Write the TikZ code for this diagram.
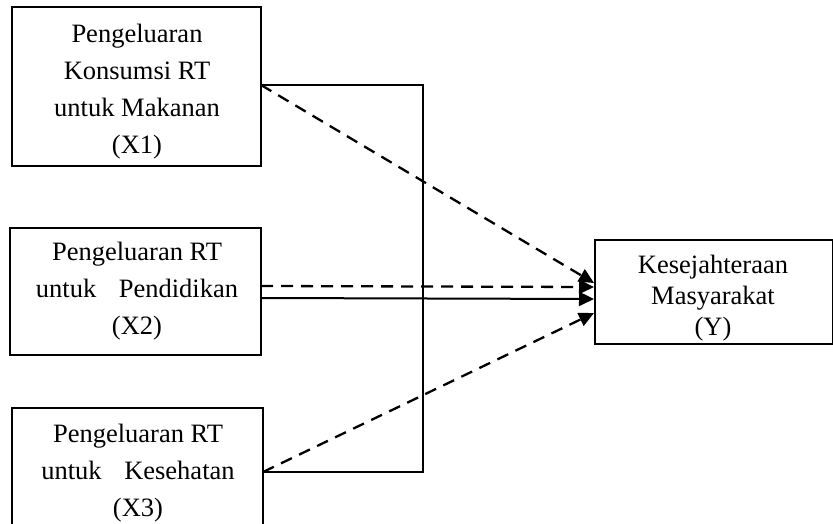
\documentclass[tikz,border=0pt]{standalone}
\usepackage{fontspec}
\setmainfont{Liberation Serif}
\usetikzlibrary{arrows.meta}
\begin{document}
\begin{tikzpicture}[x=1pt,y=-1pt,
  box/.style={draw,line width=2pt,inner sep=0pt,anchor=center},
  txt/.style={align=center,inner sep=0pt,font=\fontsize{26.5}{37}\selectfont},
  ytxt/.style={align=center,inner sep=0pt,font=\fontsize{26.5}{31}\selectfont},
  solidln/.style={line width=2pt},
  dashln/.style={line width=2.3pt,dash pattern=on 12pt off 8pt},
  tip/.style={-{Triangle[length=15pt,width=14pt]}}]
\useasboundingbox (0,0) rectangle (833,524);
\clip (0,0) rectangle (833,524);
% boxes
\node[box,minimum width=249pt,minimum height=159pt] (x1) at (136.5,86.5) {};
\node[box,minimum width=251pt,minimum height=127pt] (x2) at (135.5,291.5) {};
\node[box,minimum width=251pt,minimum height=128pt] (x3) at (137.5,472) {};
\node[box,minimum width=238pt,minimum height=104pt] (y) at (713.5,291.5) {};
% texts
\node[txt] (t1) at (137,92) {Pengeluaran\\Konsumsi RT\\untuk Makanan\\(X1)};
\node[txt] (t2) at (137,291) {Pengeluaran RT\\untuk\hspace{0.6em} Pendidikan\\(X2)};
\node[txt] (t3) at (138,473) {Pengeluaran RT\\untuk\hspace{0.6em} Kesehatan\\(X3)};
\node[ytxt] (ty) at (713,298) {Kesejahteraan\\Masyarakat\\(Y)};
% named points
\coordinate (v) at (423,300);
\coordinate (s1) at (261,85);
\coordinate (s2d) at (261,286);
\coordinate (s2s) at (261,298);
\coordinate (s3) at (263,472);
\coordinate (e1) at (594,283);
\coordinate (e2d) at (594,287);
\coordinate (e2s) at (594,299);
\coordinate (e3) at (594,313);
% bracket line
\draw[solidln] (s1) -| (v) |- (s3);
% arrows
\draw[dashln,tip] (s1) -- (e1);
\draw[dashln,tip] (s2d) -- (e2d);
\draw[solidln,tip] (s2s) -- (e2s);
\draw[dashln,tip] (s3) -- (e3);
\end{tikzpicture}
\end{document}
